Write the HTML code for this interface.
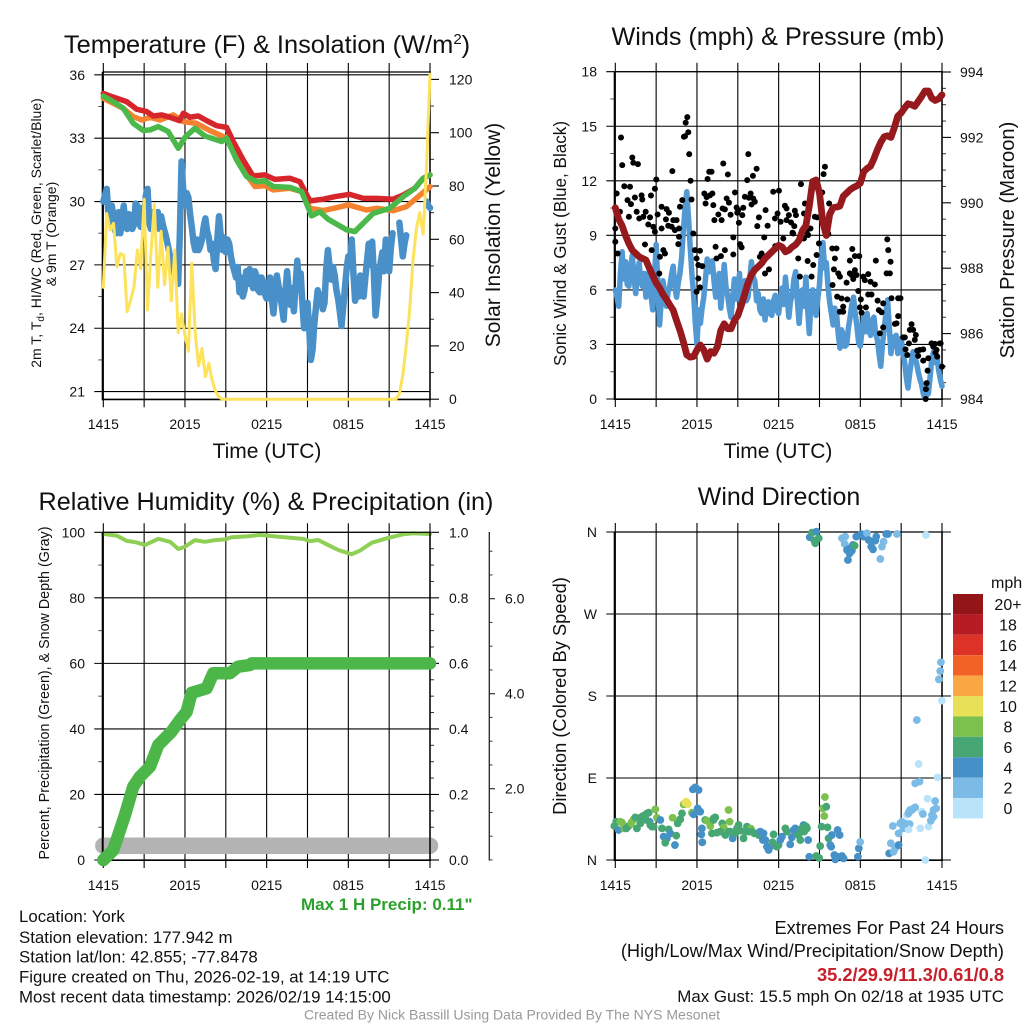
<!DOCTYPE html>
<html lang="en">
<head>
<meta charset="utf-8">
<title>NYS Mesonet Station Meteogram - York</title>
<style>
html,body{margin:0;padding:0;background:#fff;width:1024px;height:1024px;overflow:hidden}
svg{display:block}
text{font-family:"Liberation Sans",sans-serif;fill:#111}
</style>
</head>
<body>
<svg id="chart" xmlns="http://www.w3.org/2000/svg" width="1024" height="1024" viewBox="0 0 1024 1024">
<rect x="0" y="0" width="1024" height="1024" fill="#fff"/>
<g id="p1"></g>
<g id="p2"></g>
<g id="p3"></g>
<g id="p4"></g>
<g id="cb"></g>

<text x="267" y="53" font-size="25.4" text-anchor="middle">Temperature (F) &amp; Insolation (W/m<tspan font-size="15" dy="-9">2</tspan><tspan dy="9">)</tspan></text>
<text x="267" y="458" font-size="21" text-anchor="middle">Time (UTC)</text>
<text transform="translate(41,233) rotate(-90)" font-size="14" text-anchor="middle">2m T, T<tspan font-size="10" dy="3">d</tspan><tspan dy="-3">, HI/WC (Red, Green, Scarlet/Blue)</tspan></text>
<text transform="translate(56,234) rotate(-90)" font-size="14" text-anchor="middle">&amp; 9m T (Orange)</text>
<text transform="translate(500,235) rotate(-90)" font-size="21" text-anchor="middle">Solar Insolation (Yellow)</text>

<text x="778" y="45" font-size="25.2" text-anchor="middle">Winds (mph) &amp; Pressure (mb)</text>
<text x="778" y="458" font-size="21" text-anchor="middle">Time (UTC)</text>
<text transform="translate(566,243.5) rotate(-90)" font-size="17.1" text-anchor="middle">Sonic Wind &amp; Gust (Blue, Black)</text>
<text transform="translate(1014,240) rotate(-90)" font-size="20.2" text-anchor="middle">Station Pressure (Maroon)</text>

<text x="266" y="510" font-size="25.2" text-anchor="middle">Relative Humidity (%) &amp; Precipitation (in)</text>
<text transform="translate(49,693) rotate(-90)" font-size="14.3" text-anchor="middle">Percent, Precipitation (Green), &amp; Snow Depth (Gray)</text>
<text x="301" y="910" font-size="17" font-weight="bold" style="fill:#2ca02c">Max 1 H Precip: 0.11"</text>

<text x="779" y="505" font-size="25" text-anchor="middle">Wind Direction</text>
<text transform="translate(566,696) rotate(-90)" font-size="18.3" text-anchor="middle">Direction (Colored By Speed)</text>

<text x="19" y="922" font-size="16.85">Location: York</text>
<text x="19" y="943" font-size="16.85">Station elevation: 177.942 m</text>
<text x="19" y="962.5" font-size="16.85">Station lat/lon: 42.855; -77.8478</text>
<text x="19" y="982.5" font-size="16.85">Figure created on Thu, 2026-02-19, at 14:19 UTC</text>
<text x="19" y="1002.5" font-size="16.85">Most recent data timestamp: 2026/02/19 14:15:00</text>

<text x="1004" y="934" font-size="18.2" text-anchor="end">Extremes For Past 24 Hours</text>
<text x="1004" y="957" font-size="18.2" text-anchor="end">(High/Low/Max Wind/Precipitation/Snow Depth)</text>
<text x="1004" y="981" font-size="18.3" font-weight="bold" text-anchor="end" style="fill:#c8202a">35.2/29.9/11.3/0.61/0.8</text>
<text x="1004" y="1002" font-size="16.9" text-anchor="end">Max Gust: 15.5 mph On 02/18 at 1935 UTC</text>
<text x="512" y="1019.5" font-size="14" text-anchor="middle" style="fill:#999">Created By Nick Bassill Using Data Provided By The NYS Mesonet</text>
</svg>

<script>
// ---------- time axis ----------
const timeTickHours = [0,3,6,9,12,15,18,21,24];
const timeTickLabels = ['1415','','2015','','0215','','0815','','1415'];

// ---------- temperature panel ----------
const tempTicks = [36,33,30,27,24,21];
const tempMinorTicks = [34.5,31.5,28.5,25.5,22.5];
const solarTicks = [120,100,80,60,40,20,0];
const solarMinorTicks = [110,90,70,50,30,10];

const redHours = [0,.49,1.22,1.71,2.45,3.18,3.67,4.28,4.9,5.6,5.88,6.36,6.98,7.59,8.32,9.06,9.55,10.28,11,11.87,12.6,13.7,14.44,15.18,16.16,17,18.1,19.1,20.07,21.3,22.03,22.89,23.5,24];
const redTemps = [35.12,35,34.84,34.73,34.37,34.26,34.05,34.1,33.99,33.83,34.18,33.99,34.05,33.83,33.59,33.51,32.84,31.97,31.21,31.26,31.05,31.1,30.94,30.03,30.11,30.23,30.34,30.15,30.15,30.11,30.31,30.63,31.1,31.26];
const orangeHours = [0,.73,1.47,2.2,2.82,3.43,4.16,5.14,5.88,6.85,7.83,9.06,9.79,10.53,11.14,11.87,12.48,13.7,14.57,15.18,16.16,17.14,18,19.34,20.07,21.3,22.28,23.13,24];
const orangeTemps = [34.89,34.65,34.41,34.02,33.86,33.99,33.86,34.1,33.78,33.7,33.36,33,32.13,31.26,30.71,30.75,30.55,30.63,30.47,29.68,29.57,29.71,29.84,29.6,29.68,29.57,29.76,30.23,30.7];
const greenHours = [0,.73,1.47,2.2,2.94,3.43,4.04,4.77,5.51,6,6.73,7.47,8.69,9.06,9.79,10.53,11.26,11.87,12.48,13.7,14.57,15.3,15.91,16.52,17.87,18.48,19.09,19.83,21.05,22.03,22.89,23.5,24];
const greenTemps = [34.99,34.73,34.41,33.7,33.36,33.39,33.55,33.31,32.52,33.04,33.47,33.1,32.84,33,31.97,31.18,30.94,30.99,30.71,30.67,30.47,29.32,29.52,29.16,28.66,28.58,28.97,29.44,29.68,30.23,30.63,31.1,31.26];
// 7.5-minute samples, one row per hour
const dewpointTemps = [
30,30.3,30.6,29.4,29,29.8,29.3,28.6,
28.5,29.5,28.5,29.1,29.8,28.9,28.7,29.4,
29.1,28.7,28.9,29.9,29.8,29,28.8,29.7,
29,30.3,30.6,29,28.7,29.5,29.1,28.9,
29.5,28.7,29.3,28.9,28.6,28.3,27.9,27.5,
27,26.8,26.5,26.9,26.1,28.5,31.9,30.5,
29.8,30.4,30.2,29.4,28.8,28.1,27.7,28.2,
27.7,27.9,28.2,28.8,29.2,28.6,28.3,27.7,
28,27.2,26.8,28.2,29.3,28.4,27.7,28.3,
27.6,28.2,28,27.4,27,26.7,26.4,26.9,
25.7,26.4,25.5,25.8,26.7,26.1,26.8,26.2,
25.9,26.7,26.5,25.8,25.7,26.4,26.2,25.6,
25.4,25.9,26.4,25.4,24.7,25.6,26.5,26,
25.6,25,24.4,25.7,26.7,25.8,25.1,25.9,
24.8,26,27.2,26,26.6,25.2,24,24.9,
25.2,24,22.5,23,24.2,25,25.8,25.2,
25.6,24.9,25.2,26.8,27.7,26.9,26.3,26.9,
26.5,25.8,25.4,24.8,24.1,25,25.9,26.8,
27.4,27,28.2,26.6,25.3,26.2,25.5,26.5,
26.4,25.5,26.4,27.2,28,27,28.1,26.6,
24.6,25.4,26.5,27.1,27.6,26.7,28.2,27.3,
26.7,27.8,28.5,null,null,null,29,28.2,
27.4,28,28.4,null,null,null,null,null,
null,null,null,null,null,null,30,29.8,
29.7];
// 15-minute samples
const solarValues = [42,69.7,63.5,66,49.7,54.7,54,32.8,37,42,56,49,75,33.5,55,73,42,63,43,57,37,56,25,32,24,18,51,25,12.5,19,8.5,13.5,7,3,.8,0,0,0,0,0,0,0,0,0,0,0,0,0,0,0,0,0,0,0,0,0,0,0,0,0,0,0,0,0,0,0,0,0,0,0,0,0,0,0,0,0,0,0,0,0,0,0,0,0,0,0,0,2,9,20,33,52,64,70,62,88,122];

// ---------- winds panel ----------
const windTicks = [18,15,12,9,6,3,0];
const windMinorTicks = [16.5,13.5,10.5,7.5,4.5,1.5];
const pressureTicks = [994,992,990,988,986,984];
const pressureMinorTicks = [993.5,993,992.5,991.5,991,990.5,989.5,989,988.5,987.5,987,986.5,985.5,985,984.5];
// 7.5-minute samples, one row per hour
const windSpeeds = [
6,5.6,5.1,6.9,8.1,6.6,7.55,6.3,
6.2,7.3,7.9,6.7,5.8,6.8,7.5,6.5,
6.2,6.9,5.6,6.3,7,5.7,4.9,6.6,
8.5,6.3,4.07,5.4,6.5,5.8,5.1,5.9,
6.2,6.8,7.3,6.2,5.6,6.4,6.9,7.8,
9.3,10.5,11.4,10,8.4,6.9,5.8,4.2,
3,4.9,4.16,5,5.6,6.6,7.7,7,
7.1,7.6,6.5,5.6,5.8,6.9,5,6.1,
7.4,6.2,5.7,5,4.5,5.6,6.6,5.5,
6,6.9,5.1,5.9,6.5,5.4,5.6,6.6,
7.55,6.7,6.5,5.4,5.8,4.9,4.7,5.5,
4.35,5.1,5.35,4.7,4.6,5.4,5.7,4.9,
4.7,5.5,6.1,5.2,6.7,5.6,4.5,5.4,
5.7,6.6,7,5.4,4.16,5.3,6,5.1,
6.7,5,3.6,5.3,6,5.2,4.6,5.5,
6.3,7.8,8.6,7.2,7.5,6.2,5.3,4.7,
4.07,5,4.7,3.6,2.8,3.8,3.5,2.9,
3,3.9,4.5,5.2,5.6,4.7,4,3.1,
2.9,3.8,4.5,3.7,4.7,3.9,3.5,4.3,
4.5,3.6,3.25,2.5,1.8,3,3.8,4.7,
5.45,4,2.5,3.4,2.9,3.5,2.5,3,
3.35,2.5,2.05,1.2,.6,1.4,2.05,2.6,
2.3,2,1.5,1.1,.8,.3,.04,.2,
.3,1.2,2.2,2.6,2,2.4,1.6,1.1,
.7];
// 15-minute samples
const pressureValues = [989.85,989.5,989.3,989,988.75,988.55,988.45,988.35,988.3,988.25,988,987.78,987.55,987.4,987.2,987.05,986.88,986.72,986.4,986.1,985.75,985.35,985.28,985.3,985.5,985.65,985.5,985.22,985.45,985.4,985.6,986.1,986.3,986.15,986.15,986.4,986.55,986.85,987.2,987.55,987.8,987.95,988.05,988.15,988.3,988.4,988.5,988.6,988.7,988.65,988.5,988.55,988.65,988.72,988.85,989.15,989.3,989.9,990.65,990.7,990.3,989.4,989,989.65,989.85,989.87,989.9,990.2,990.3,990.4,990.47,990.52,990.6,990.95,991.05,991.12,991.35,991.62,991.85,992.02,992.05,992,992.3,992.65,992.75,992.9,993.03,993,992.95,993.1,993.25,993.42,993.42,993.2,993.13,993.18,993.3];
const gustHours = [.42,.51,.1,0,.34,.66,1.08,1.25,1.32,1.66,.9,1.15,1.44,1.93,1.98,2.62,2.91,3.01,1.57,1,1.76,2.23,2.06,2.55,2.42,2.79,3.4,3.77,3.11,3.72,3.4,3.89,3.94,4.26,4.5,4.75,4.92,4.19,5.04,5.12,5.36,5.17,5.29,5.43,5.53,5.6,4.14,4.38,4.68,6.54,7.13,6.71,6.95,6.63,7.2,6.78,6.9,7.07,7.93,8.27,8.79,8.18,8.35,7.88,8.05,7.57,7.28,7.81,8.47,8.91,9.03,9.4,8.96,9.33,9.08,9.77,10.38,10.11,9.69,9.94,9.52,9.82,10.13,10.25,10.01,11.04,10.55,10.43,11.19,11.6,12.02,12.46,12.58,11.92,11.73,12.14,12.58,12.75,13.19,13.27,12.91,13.15,13.64,13.93,13.86,14.66,14.83,14.34,13.02,15.4,15.3,15.2,15.71,14.05,15.64,0,.17,2.18,2.67,3.53,3.65,3.28,2.91,4.63,4.68,5.73,5.85,6.22,5.97,6.1,6.39,6.1,6.22,5.97,3.23,7.37,7.44,7.76,8.05,8.67,8.67,9.16,9.28,10.94,10.75,10.62,11.75,11.29,11,12.34,13.07,13.86,14.17,13.44,14.13,14.54,13.56,14.42,14.96,14.79,15.64,15.94,16.25,16.13,16.06,15.96,16.38,16.5,16.99,17.23,17.41,17.6,17.92,17.23,17.6,17.36,17.48,17.72,18.58,18.21,18.33,18.75,19.07,19.14,19.98,20.05,20.22,19.93,20.17,17.85,18.04,18.58,18.82,19.27,19.68,19.36,19.56,16.3,16.62,17.04,16.74,16.74,16.5,17.97,18.41,18.09,20.29,20.78,20.95,20.78,20.54,20.66,19.68,19.44,21.76,21.64,21.88,22.08,21.15,21.27,22,21.57,21.32,21.45,22.18,22.37,22.62,22.25,22.62,22.99,22.94,22.87,22.82,22.8,23.23,23.48,23.36,23.84,23.6,23.52,23.65,24,23.9];
const gustSpeeds = [14.38,12.86,11.3,9.38,10.3,11.7,11.67,13.28,12.99,12.92,10.94,10.72,11.08,11.2,10.97,11.19,11.56,12.07,10.3,10.02,9.93,10.3,10.02,9.99,9.6,9.47,10.57,10.44,10.15,9.88,9.38,9.53,10.24,9.84,9.84,10.57,10.94,12.53,14.42,14.45,14.67,15.2,15.5,13.47,12,10.97,9.47,9.29,9.38,11.3,11.3,11.1,11.2,10.75,10.66,12.1,12.5,12.5,12.95,12.35,11.36,11.03,10.8,10.48,10.43,10.15,9.84,9.84,10.13,10.53,10.39,10.52,10.24,10.11,9.69,13.47,12.66,12.27,12.04,11.3,11.12,11.07,11.03,10.85,10.7,10.39,9.99,9.51,9.53,11.4,11.45,10.63,10.48,10.2,9.93,9.75,9.84,10.11,10.35,10.11,9.71,9.51,11.82,10.75,10.2,10.02,9.99,9.38,9.14,12.77,12.37,11.36,10.75,9.2,9.1,8.65,8,8.5,8.19,8.19,8,7.82,9.2,8.52,8.92,9.1,8.19,8.15,7.73,7.37,7.31,6.63,6.14,5.9,6.9,8.37,7.73,7.86,8.19,8.89,7.95,8.52,8.34,8.89,8,7.82,8.41,7.13,6.9,8.83,9.1,8.83,9.02,7.73,7.59,7.37,6.73,6.73,8.56,7.92,9.07,8.28,8.28,7.73,7.13,6.27,6.91,6.73,6.4,7.61,8.25,7.86,7.86,6.91,7.09,6.82,6.6,6.82,6.87,6.73,6.54,6.45,6.3,7.61,8.78,8.19,7.55,6.91,6.91,5.94,5.48,5.75,5.75,5.41,5.26,4.89,4.77,5.63,5.53,5.48,5.08,4.8,4.8,5.04,5.04,4.75,5.54,5.54,5.54,4.56,4.13,4.16,3.94,3.61,4.11,3.8,3.8,3.52,3.39,3.39,3.25,3.06,2.73,2.42,2.66,2.7,2.73,2.37,2.11,2.24,1.56,.87,.54,0,3.06,3.03,2.88,3.06,2.7,2.55,2.33,1.78,3.06];

// ---------- humidity panel ----------
const percentTicks = [100,80,60,40,20,0];
const percentMinorTicks = [90,70,50,30,10];
const precipTicks = [1,.8,.6,.4,.2,0];
const precipMinorTicks = [.9,.7,.5,.3,.1,.95,.85,.75,.65,.55,.45,.35,.25,.15,.05];
const snowTicks = [6,4,2];
const snowMinorTicks = [7,6.5,5.5,5,4.5,3.5,3,2.5,1.5,1,.5];
const rhHours = [0,.98,1.71,2.45,3.06,4.04,4.9,5.51,6,6.73,7.47,8.2,8.94,9.42,10.4,11.5,12.73,14.69,15.18,15.79,16.52,17.26,18.24,18.85,19.71,20.81,22.03,22.77,24];
const rhValues = [99.5,99,97.4,96.9,96.1,98,97.1,94.9,95.6,97.6,97.1,97.6,97.85,98.5,98.7,99.2,98.7,98,97.3,97.65,96.1,94.6,93.3,94.4,96.8,98.15,99.4,99.7,99.5];
const precipHours = [0,.73,1.1,1.59,2.2,2.69,3.43,4.04,5,5.63,6.12,6.49,7.59,8.08,9.3,9.9,10.77,10.9,24];
const precipValues = [0,.03,.076,.137,.224,.254,.285,.351,.391,.427,.452,.51,.524,.57,.57,.59,.595,.6,.6];
const snowHours = [0,24];
const snowValues = [.8,.8];

// ---------- direction panel (rows of ten, aligned across the three arrays) ----------
const dirTicks = [360,270,180,90,0];
const dirTickLabels = ['N','W','S','E','N'];
const dirHours = [
-.07,.07,.24,.49,.66,.98,1.15,1.35,1.59,1.84,
2.03,2.45,2.52,2.69,2.94,3.06,3.31,3.43,3.55,3.92,
3.79,3.67,4.04,4.38,4.48,4.21,4.58,4.77,4.9,5.02,
5.21,5.34,5.14,5.63,5.75,6.05,6.24,5.88,5.7,6.12,
6.36,6.32,6.39,6.61,6.73,6.98,7.34,7.22,7.1,7.47,
7.86,7.96,8.08,8.32,8.4,8.45,8.62,8.81,9.06,9.18,
9.42,9.67,9.55,9.96,10.21,10.53,10.89,10.84,11.02,11.26,
11.38,11.63,11.55,11.99,12.12,12.24,12.49,12.61,12.85,12.97,
13.22,13.34,13.59,13.83,13.71,14.03,13.88,14.17,14.25,14.76,
14.98,15.05,15.15,15.25,15.35,15.4,15.5,15.59,15.67,15.91,
15.86,15.79,16.33,16.48,16.09,16.16,16.33,16.65,16.77,17.82,
17.89,17.99,20.12,20.24,20.39,20.44,20.56,20.81,20.81,21.05,
21.17,21.3,21.42,21.62,21.54,21.59,21.79,22.03,22.4,22.52,
22.6,22.77,22.94,23.01,23.18,23.26,23.38,23.57,23.5,23.67,
22.03,22.35,22.28,22.15,23.99,23.92,23.87,23.77,
2.2,2.28,2.33,2.57,2.82,1.22,1.47,.37,.81,1.88,
7.22,7.71,8.32,8.94,9.79,10.04,10.4,10.65,11.14,11.87,
13.1,13.46,13.95,14.08,20.93,21.3,21.66,21.91,21.54,23.38,
14.28,14.45,14.77,14.94,14.69,14.62,16.65,16.89,16.85,17.7,
18.07,17.02,17.26,17.46,17.21,17.09,17.38,18.24,18.49,18.61,
18.85,19.17,19.1,18.8,18.93,19.71,19.59,19.47,19.9,20.03,
20.69,22.82,17.58];
const dirDegrees = [
37.3,42,32.9,41,34.7,37.3,39.5,44.6,34.7,40.2,
48.3,51.9,42,36.6,55.6,46.4,43.9,34.7,25.6,33.6,
23.8,19,29.2,16.4,26.7,46.4,40.2,44.6,51.2,61.1,
64,61.4,62.9,51.9,50.1,56.7,53,79.7,77.5,76.8,
34.7,28.1,19.4,43.9,43.1,37.3,46.8,45.7,29.2,30,
40.2,35.8,27.4,54.9,42,31.1,23.8,29.2,38.4,32.2,
23.8,36.6,31.1,34.4,29.2,27.4,29.2,21.9,21.9,11,
14.6,28.1,19.4,16.4,21.9,25.6,34.7,31.1,17.2,24.9,
34.7,29.2,21.9,38.4,34.7,36.6,31.1,21.9,3.6,4.4,
2.2,15.3,36.6,56.7,48.3,69.1,58.5,35.8,23.8,27.4,
14.6,16.4,32.9,27.4,5.5,.7,3.6,4.4,1.8,3.6,
12.8,19.7,7.3,18.3,37.3,9.1,12.8,16.4,29.2,42,
34.7,38.4,49.4,39.5,33.6,53,54.9,57.8,34.7,53,
50.5,0,67.3,36.6,43.1,49.4,54.9,56.7,64.7,90.7,
84.1,86,105.3,153.6,174.9,217,207.4,198.3,
49.4,43.9,51.2,38.4,36.6,42,46.8,42,34.7,46.8,
43.9,31.1,31.1,34.7,31.1,31.1,29.2,31.1,14.6,14.6,
32.9,27.4,37.3,34.7,40.2,40,54.9,56.7,51.2,47.5,
354.2,359.3,360.4,353.1,347.6,350.5,353.1,354.9,346.9,354.9,
357.8,340.3,342.1,345.8,336.6,329.3,339.5,354.9,358.6,351.2,
349.4,354.9,350.5,343.9,341,349.4,343.9,330.4,357.8,357.8,
357.8,356.7,345];
const dirSpeeds = [
7,7,5,9,9,7,9,9,7,7,
7,7,5,7,9,9,5,7,5,7,
5,7,5,5,7,9,7,7,7,9,
11,11,11,9,5,5,5,5,5,5,
5,5,5,7,9,9,7,7,7,7,
7,9,7,9,9,7,5,7,7,7,
7,7,7,9,7,7,5,5,5,5,
5,7,7,7,5,5,7,7,5,5,
5,7,7,5,7,7,7,5,5,7,
7,7,7,9,9,9,7,7,7,5,
5,5,5,5,5,5,5,5,5,5,
5,3,5,3,3,3,3,5,3,3,
3,3,1,3,1,3,3,3,1,1,
3,1,1,1,3,3,3,3,3,1,
3,3,1,3,1,3,3,3,
7,7,7,7,7,9,7,9,7,7,
7,7,7,7,7,7,7,5,5,7,
5,7,7,7,3,3,3,3,3,3,
5,7,5,7,7,7,3,3,3,5,
5,5,5,5,5,5,5,5,3,5,
5,5,5,5,5,3,3,3,5,5,
3,1,7];

// ---------- colorbar ----------
const speedLabels = ['20+','18','16','14','12','10','8','6','4','2','0'];
const speedColors = ['#931518','#b71c24','#dc3228','#f26226','#f9a743','#e8e056','#7cc04e','#46a674','#4690c8','#7cbbe6','#b9e3f9'];

// ---------- helpers ----------
const NS = 'http://www.w3.org/2000/svg';
function mk(parent, tag, props) {
  const el = document.createElementNS(NS, tag);
  for (const k in props) el.setAttribute(k, props[k]);
  parent.appendChild(el);
  return el;
}
function linear(d0, r0, d1, r1) { return v => r0 + (v - d0) * (r1 - r0) / (d1 - d0); }
function seg(parent, x1, y1, x2, y2, w, name, color) {
  const el = mk(parent, 'line', {x1, y1, x2, y2, stroke: color || '#000', 'stroke-width': w});
  
  
  return el;
}
function label(parent, x, y, str, anchor, name, size) {
  const el = mk(parent, 'text', {x, y, 'font-size': size || 14, 'text-anchor': anchor});
  el.textContent = str;
  
  
  return el;
}
function pathD(hours, vals, xf, yf) {
  let d = '', pen = false;
  vals.forEach((v, i) => {
    if (v === null) { pen = false; return; }
    d += (pen ? 'L' : 'M') + xf(hours(i)).toFixed(2) + ' ' + yf(v).toFixed(2);
    pen = true;
  });
  return d;
}
function series(parent, hours, vals, xf, yf, color, width, name) {
  const fn = typeof hours === 'function' ? hours : (i => hours[i]);
  const el = mk(parent, 'path', {d: pathD(fn, vals, xf, yf), fill: 'none', stroke: color, 'stroke-width': width, 'stroke-linejoin': 'round', 'stroke-linecap': 'round'});
  
  
  return el;
}
const quarterHours = i => i * 0.25;
const eighthHours = i => i * 0.125;

function frame(g, xf, left, right, top, bottom, cfg) {
  timeTickHours.forEach((h, i) => {
    const x = xf(h);
    seg(g, x, top - 9, x, bottom + 8, 1.1, 'time-gridline');
    if (timeTickLabels[i]) label(g, x, bottom + 30, timeTickLabels[i], 'middle', 'time-tick-label');
  });
  cfg.ticks.forEach((v, i) => {
    const y = cfg.yf(v);
    seg(g, left - 9, y, right + (cfg.rightOver || 0), y, 1.1, 'y-gridline');
    label(g, cfg.labelX, y + 5, cfg.labels ? cfg.labels[i] : String(v), 'end', 'y-tick-label');
  });
  (cfg.minor || []).forEach(v => {
    const y = cfg.yf(v);
    seg(g, left - 5, y, left, y, 1, 'y-minor-tick', '#555');
  });
}
function spines(g, left, right, top, bottom, lw) {
  seg(g, left - .6, top, left - .6, bottom + 1, lw || 2, 'left-spine');
  seg(g, right, top, right, bottom + 1, 1.5, 'right-spine');
  seg(g, left - 1, bottom + .2, right + 1, bottom + .2, 1.6, 'bottom-spine');
  seg(g, left - 1, top, right + 1, top, 1.2, 'top-spine');
}
function rightAxis(g, x, yf, ticks, minor, labelX, fmt) {
  ticks.forEach(v => {
    const y = yf(v);
    seg(g, x, y, x + 9, y, 1.1, 'right-tick');
    label(g, labelX, y + 5, fmt(v), 'start', 'right-tick-label');
  });
  minor.forEach(v => {
    const y = yf(v);
    seg(g, x, y, x + 4, y, 1, 'right-minor-tick', '#333');
  });
}

// ---------- panel 1 ----------
(function () {
  const g = document.getElementById('p1');
  const xf = linear(0, 103.3, 24, 430);
  const yT = linear(36, 74.8, 21, 391.6);
  const yS = linear(0, 399.2, 120, 79.4);
  frame(g, xf, 103.3, 430, 72, 399.2, {ticks: tempTicks, minor: tempMinorTicks, yf: yT, labelX: 85});
  rightAxis(g, 430, yS, solarTicks, solarMinorTicks, 449, v => String(v));
  spines(g, 103.3, 430, 72, 399.2);
  series(g, eighthHours, dewpointTemps, xf, yT, '#4a90c8', 6.5, 'dewpoint-line');
  series(g, orangeHours, orangeTemps, xf, yT, '#f58230', 5.5, 'nine-meter-temp-line');
  series(g, redHours, redTemps, xf, yT, '#d7262b', 5.5, 'two-meter-temp-line');
  series(g, greenHours, greenTemps, xf, yT, '#4bb84a', 5.5, 'heat-index-line');
  series(g, quarterHours, solarValues, xf, yS, '#fde25c', 3, 'solar-insolation-line');
})();

// ---------- panel 2 ----------
(function () {
  const g = document.getElementById('p2');
  const xf = linear(0, 615.3, 24, 942);
  const yW = linear(0, 399, 18, 71.7);
  const yP = linear(984, 399, 994, 72);
  frame(g, xf, 615.3, 942, 71.7, 399, {ticks: windTicks, minor: windMinorTicks, yf: yW, labelX: 597});
  rightAxis(g, 942, yP, pressureTicks, pressureMinorTicks, 960, v => String(v));
  spines(g, 615.3, 942, 71.7, 399);
  series(g, eighthHours, windSpeeds, xf, yW, '#5298d3', 5.5, 'sonic-wind-line');
  gustHours.forEach((h, i) => {
    const c = mk(g, 'circle', {cx: xf(h).toFixed(2), cy: yW(gustSpeeds[i]).toFixed(2), r: 3, fill: '#000'});
    
    
  });
  series(g, quarterHours, pressureValues, xf, yP, '#95191d', 6.8, 'station-pressure-line');
})();

// ---------- panel 3 ----------
(function () {
  const g = document.getElementById('p3');
  const xf = linear(0, 103.3, 24, 430);
  const yR = linear(0, 860, 100, 532.3);
  const yPr = linear(0, 860, 1, 532.3);
  const ySn = linear(2, 788.7, 6, 598.7);
  frame(g, xf, 103.3, 430, 532.3, 860, {ticks: percentTicks, minor: percentMinorTicks, yf: yR, labelX: 85});
  rightAxis(g, 430, yPr, precipTicks, precipMinorTicks, 449, v => v.toFixed(1));
  seg(g, 489.3, 532, 489.3, 860.5, 1.3, 'snow-axis-spine', '#222');
  snowTicks.forEach(v => {
    seg(g, 489.3, ySn(v), 495, ySn(v), 1.1, 'snow-tick', '#222');
    label(g, 505, ySn(v) + 5, v.toFixed(1), 'start', 'snow-tick-label');
  });
  snowMinorTicks.forEach(v => {
    seg(g, 489.3, ySn(v), 492.5, ySn(v), 1, 'snow-minor-tick', '#333');
  });
  series(g, rhHours, rhValues, xf, yR, '#8fcf55', 4, 'relative-humidity-line');
  series(g, snowHours, snowValues, xf, ySn, '#b3b3b3', 16.5, 'snow-depth-line');
  spines(g, 103.3, 430, 532.3, 860);
  series(g, precipHours, precipValues, xf, yPr, '#4cb748', 12.5, 'precipitation-line');
})();

// ---------- panel 4 ----------
(function () {
  const g = document.getElementById('p4');
  const xf = linear(0, 615.3, 24, 942);
  const yD = linear(0, 860, 360, 532);
  frame(g, xf, 615.3, 942, 532, 860, {ticks: dirTicks, labels: dirTickLabels, yf: yD, labelX: 597, rightOver: 9});
  spines(g, 615.3, 942, 532, 860);
  dirHours.forEach((h, i) => {
    const bin = Math.min(10, Math.floor(dirSpeeds[i] / 2));
    const c = mk(g, 'circle', {cx: xf(h).toFixed(2), cy: yD(dirDegrees[i]).toFixed(2), r: 3.9, fill: speedColors[10 - bin]});
    
    
  });
})();

// ---------- colorbar ----------
(function () {
  const g = document.getElementById('cb');
  label(g, 991, 588, 'mph', 'start', 'colorbar-unit', 16);
  const yBox = linear(0, 594, 11, 818.5);
  speedLabels.forEach((s, i) => {
    const r = mk(g, 'rect', {x: 953, y: yBox(i).toFixed(2), width: 30, height: (yBox(i + 1) - yBox(i)).toFixed(2), fill: speedColors[i]});
    
    
    label(g, 1008, yBox(i) + 16, s, 'middle', 'colorbar-label', 16);
  });
})();
</script>
</body>
</html>
